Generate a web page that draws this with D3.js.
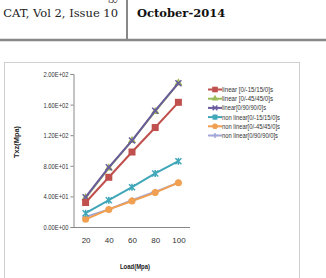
<!DOCTYPE html>
<html>
<head>
<meta charset="utf-8">
<script src="https://cdn.jsdelivr.net/npm/d3@7"></script>
<style>
    body { margin: 0; background: #fff; }
    svg { display: block; }
</style>
</head>
<body>
<div id="chart"></div>
<script>
// data
let loads = [20, 40, 60, 80, 100]
let yTicks = [0, 40, 80, 120, 160, 200]
let seriesNames = ["linear [0/-15/15/0]s", "linear [0/-45/45/0]s", "linear[0/90/90/0]s",
    "non linear[0/-15/15/0]s", "non linear[0/-45/45/0]s", "non linear[0/90/90/0]s"]
let linear15 = [32, 65, 98, 130, 163]
let linear45 = [38, 77, 113, 151, 188]
let linear90 = [39, 78, 113, 152, 188]
let nonlinear15 = [18, 35, 52, 70, 86]
let nonlinear45 = [10, 23, 34, 45, 58]
let nonlinear90 = [13, 23, 35, 46, 58]

let colors = ["#c0504d", "#9bbb59", "#6a5a9e", "#3fa7b8", "#f0a050", "#a3a6d8"]
let markers = ["square", "triangle", "x", "star", "circle", "plus"]
let allSeries = [linear15, linear45, linear90, nonlinear15, nonlinear45, nonlinear90]

let W = 326, H = 278

let svg = d3.select("#chart").append("svg")
    .attr("width", W)
    .attr("height", H)

// page header (the running title above is cut off by the crop, only "gy" shows)
svg.append("text")
    .attr("x", 120).attr("y", 0)
    .attr("text-anchor", "end")
    .attr("font-family", "Liberation Serif")
    .attr("font-size", 12)
    .attr("fill", "#333")
    .text("Technology")
svg.append("text")
    .attr("x", 118).attr("y", 17)
    .attr("text-anchor", "end")
    .attr("font-family", "DejaVu Serif")
    .attr("font-size", 11.5)
    .attr("fill", "#222")
    .text("CAT, Vol 2, Issue 10")
svg.append("text")
    .attr("x", 137).attr("y", 17)
    .attr("font-family", "DejaVu Serif")
    .attr("font-weight", "bold")
    .attr("font-size", 11.5)
    .attr("fill", "#111")
    .text("October-2014")
svg.append("line")
    .attr("x1", 127).attr("x2", 127).attr("y1", 0).attr("y2", 40)
    .attr("stroke", "#888").attr("stroke-width", 2)
svg.append("line")
    .attr("x1", 0).attr("x2", W).attr("y1", 40).attr("y2", 40)
    .attr("stroke", "#888").attr("stroke-width", 2.5)

// chart frame
svg.append("rect")
    .attr("x", 4.5).attr("y", 62.5)
    .attr("width", 295).attr("height", 230)
    .attr("fill", "none")
    .attr("stroke", "#d0d0d0")

// scales
let x = d3.scalePoint()
    .domain(loads)
    .range([74, 190])
    .padding(0.5)
let y = d3.scaleLinear()
    .domain([0, 200])
    .range([227, 74])

let fmtE = function (v) {
    if (v === 0) return "0.00E+00"
    let e = Math.floor(Math.log10(Math.abs(v)))
    let m = v / Math.pow(10, e)
    return m.toFixed(2) + "E+" + String(e).padStart(2, "0")
}

let narrow = "'Liberation Sans', Arial, sans-serif"

// y axis
let yAxis = svg.append("g")
    .attr("transform", "translate(73.5,0)")
    .call(d3.axisLeft(y).tickValues(yTicks).tickSize(3).tickFormat(fmtE))
yAxis.select(".domain").attr("stroke", "#888")
yAxis.selectAll(".tick line").attr("stroke", "#888")
yAxis.selectAll(".tick text")
    .attr("font-family", narrow)
    .attr("font-size", 7.5)
    .attr("fill", "#333")
    .attr("x", -5)
    .attr("textLength", 25)
    .attr("lengthAdjust", "spacingAndGlyphs")

// x axis
let xAxis = svg.append("g")
    .attr("transform", "translate(0,227.5)")
    .call(d3.axisBottom(x).tickSize(0).tickPadding(10))
xAxis.select(".domain").attr("stroke", "#888").attr("d", "M73.5,0H190")
xAxis.selectAll(".tick text")
    .attr("font-family", narrow)
    .attr("font-size", 8)
    .attr("fill", "#333")

// axis titles
svg.append("text")
    .attr("x", 135).attr("y", 269)
    .attr("text-anchor", "middle")
    .attr("font-family", narrow)
    .attr("font-weight", "bold")
    .attr("font-size", 7.5)
    .attr("fill", "#222")
    .attr("textLength", 30)
    .attr("lengthAdjust", "spacingAndGlyphs")
    .text("Load(Mpa)")
svg.append("text")
    .attr("transform", "translate(19,142) rotate(-90)")
    .attr("text-anchor", "middle")
    .attr("font-family", narrow)
    .attr("font-weight", "bold")
    .attr("font-size", 8)
    .attr("fill", "#222")
    .attr("textLength", 32)
    .attr("lengthAdjust", "spacingAndGlyphs")
    .text("Txz(Mpa)")

function drawMarker(g, type, color, cx, cy, k) {
    k = k || 1
    if (type === "square") {
        g.append("rect").attr("x", cx - 3.5 * k).attr("y", cy - 3.5 * k)
            .attr("width", 7 * k).attr("height", 7 * k).attr("fill", color)
    } else if (type === "triangle") {
        g.append("path").attr("d", d3.symbol(d3.symbolTriangle, 30 * k * k)())
            .attr("transform", `translate(${cx},${cy})`).attr("fill", color)
    } else if (type === "circle") {
        g.append("circle").attr("cx", cx).attr("cy", cy).attr("r", 3.5 * k).attr("fill", color)
    } else if (type === "x" || type === "star") {
        let r = 3 * k
        g.append("path")
            .attr("d", `M${cx - r},${cy - r}L${cx + r},${cy + r}M${cx - r},${cy + r}L${cx + r},${cy - r}` +
                (type === "star" ? `M${cx},${cy - r - 0.5}L${cx},${cy + r + 0.5}` : ""))
            .attr("stroke", color).attr("stroke-width", 1.5).attr("fill", "none")
    } else if (type === "plus") {
        let r = 3 * k
        g.append("path")
            .attr("d", `M${cx - r - 0.5},${cy}L${cx + r + 0.5},${cy}M${cx},${cy - r}L${cx},${cy + r}`)
            .attr("stroke", color).attr("stroke-width", 1.5).attr("fill", "none")
    }
}

let line = d3.line()
    .x((d, i) => x(loads[i]))
    .y(d => y(d))

// draw in reverse so the first series sits on top like Excel
let order = [5, 4, 3, 1, 2, 0]
order.forEach(function (s) {
    let g = svg.append("g").attr("class", "series")
    g.append("path")
        .datum(allSeries[s])
        .attr("d", line)
        .attr("fill", "none")
        .attr("stroke", colors[s])
        .attr("stroke-width", 2)
    allSeries[s].forEach(function (v, i) {
        drawMarker(g, markers[s], colors[s], x(loads[i]), y(v))
    })
})

// legend
let legendWidths = [51, 51, 44, 58, 58, 56]
let legend = svg.append("g").attr("class", "legend")
seriesNames.forEach(function (name, i) {
    let ly = 89.5 + i * 9.2
    let g = legend.append("g")
    g.append("line")
        .attr("x1", 208).attr("x2", 222).attr("y1", ly).attr("y2", ly)
        .attr("stroke", colors[i]).attr("stroke-width", 2)
    drawMarker(g, markers[i], colors[i], 215, ly, 0.8)
    g.append("text")
        .attr("x", 222).attr("y", ly + 2.5)
        .attr("font-family", narrow)
        .attr("font-size", 7)
        .attr("fill", "#333")
        .attr("textLength", legendWidths[i])
        .attr("lengthAdjust", "spacingAndGlyphs")
        .text(name)
})
</script>
</body>
</html>
